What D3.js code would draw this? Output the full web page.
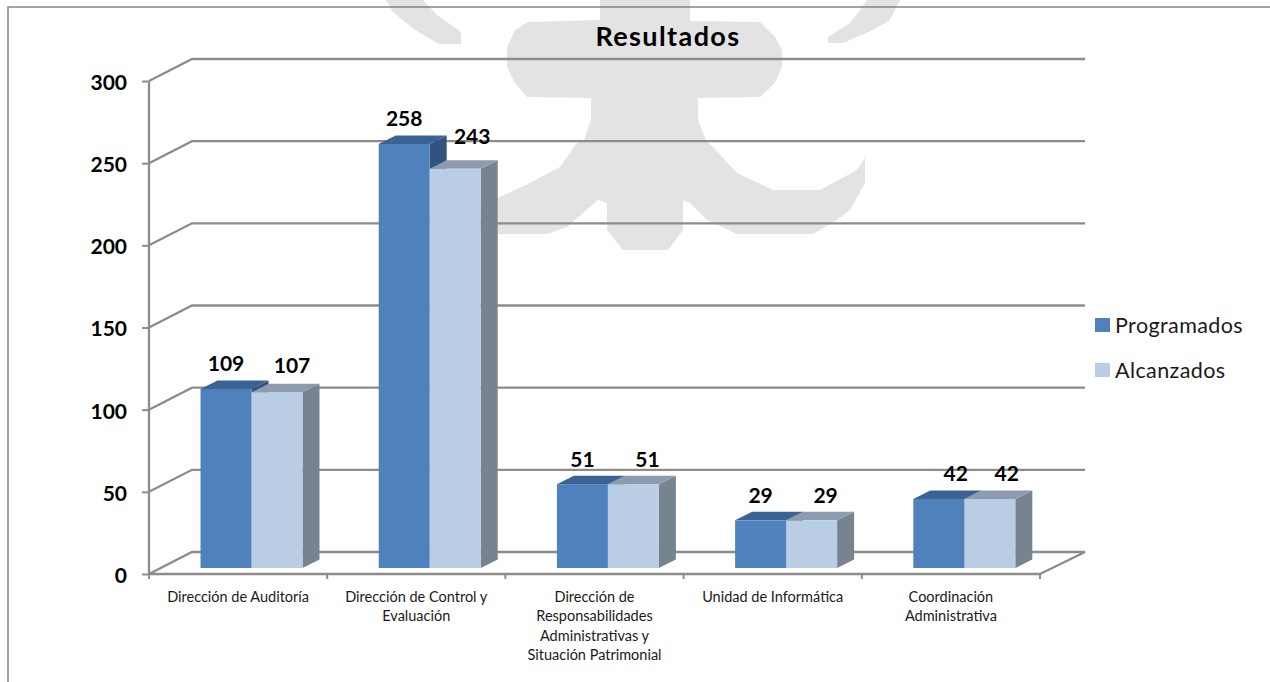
<!DOCTYPE html>
<html>
<head>
<meta charset="utf-8">
<script src="https://cdn.jsdelivr.net/npm/d3@7"></script>
<style>
  html, body { margin: 0; padding: 0; background: #fff; }
  svg { display: block; font-family: Lato, 'Open Sans', sans-serif; }
  .grid { fill: none; stroke: #8c8c8c; stroke-width: 2.3; }
  .y.axis text { font-family: Lato, 'Open Sans', sans-serif; font-size: 21px; font-weight: 700; fill: #000; }
  .y.axis path { display: none; }
  .y.axis line, .x.axis line { stroke: #8c8c8c; stroke-width: 2; }
  .value { font-size: 21px; font-weight: 700; fill: #000; text-anchor: middle; }
  .cat { font-size: 14.5px; fill: #1a1a1a; text-anchor: middle; }
  .legend { font-size: 21.5px; letter-spacing: 0.4px; fill: #1a1a1a; }
</style>
</head>
<body>
<div id="chart"></div>
<script>
const categories = [
  ['Dirección de Auditoría'],
  ['Dirección de Control y', 'Evaluación'],
  ['Dirección de', 'Responsabilidades', 'Administrativas y', 'Situación Patrimonial'],
  ['Unidad de Informática'],
  ['Coordinación', 'Administrativa']
];
const programados = [109, 258, 51, 29, 42];
const alcanzados = [107, 243, 51, 29, 42];
const yTicks = [0, 50, 100, 150, 200, 250, 300];

// the data labels were moved by hand in the original, so each keeps a nudge
const labelNudgeProg = [[0, -25], [0, -25], [0, -25], [0, -25], [17, -25]];
const labelNudgeAlc = [[15, -27], [17, -32], [14, -25], [14, -25], [17, -25]];

// pale logo behind the chart
const watermark = [
  [[600, 0], [690, 0], [690, 21], [760, 22], [775, 37], [782, 50], [782, 67], [775, 83], [760, 97],
   [698, 98], [698, 120], [706, 140], [713, 147], [737, 173], [773, 190], [820, 190], [857, 170],
   [865, 158], [865, 183], [850, 210], [837, 220], [813, 234], [737, 234], [707, 220], [690, 203],
   [683, 200], [683, 230], [668, 250], [623, 250], [607, 230], [607, 203], [598, 200], [583, 213],
   [567, 227], [547, 234], [470, 234], [470, 205], [500, 197], [530, 183], [560, 167], [577, 143],
   [584, 140], [591, 120], [591, 98], [527, 97], [515, 83], [507, 67], [507, 47], [515, 30],
   [528, 22], [600, 20]],
  [[386, 0], [423, 0], [437, 15], [461, 32], [461, 44], [439, 44], [415, 30], [393, 12]],
  [[867, 0], [900, 0], [890, 20], [873, 30], [843, 43], [828, 43], [828, 37], [850, 23], [860, 10]]
];

const width = 1270;
const height = 682;
const depth = { x: 17, y: 8.5 };
const wall = { x: 43, y: 22 };
const left = 149;
const right = 1040;
const gap = 6; // bars stand a little behind the floor edge

const svg = d3.select('#chart').append('svg')
  .attr('width', width)
  .attr('height', height);

const xScale = d3.scaleBand()
  .domain(d3.range(categories.length))
  .range([left, right])
  .paddingInner(0)
  .paddingOuter(0);
const yScale = d3.scaleLinear().domain([0, 300]).range([574, 81]);
const barWidth = 51;
const barStart = 51.5;

// background
svg.append('g').selectAll('polygon')
  .data(watermark)
  .join('polygon')
  .attr('points', (d) => d.join(' '))
  .attr('fill', '#e3e3e3');

// frame
svg.append('path')
  .attr('d', d3.line()([[8, height], [8, 7], [width, 7]]))
  .attr('fill', 'none')
  .attr('stroke', '#858585')
  .attr('stroke-width', 1.5);

// walls and grid
const line = d3.line();
svg.append('g').selectAll('path')
  .data(yTicks.filter((t) => t > 0))
  .join('path')
  .attr('class', 'grid')
  .attr('d', (t) => line([
    [left, yScale(t)],
    [left + wall.x, yScale(t) - wall.y],
    [right + 45, yScale(t) - wall.y]
  ]));

svg.append('path')
  .attr('class', 'grid')
  .attr('d', line([
    [left, yScale(0)],
    [left + wall.x, yScale(0) - wall.y],
    [right + 45, yScale(0) - wall.y],
    [right, yScale(0)]
  ]));

// axes
const yAxis = d3.axisLeft(yScale).tickValues(yTicks).tickSize(7).tickPadding(15);
svg.append('g')
  .attr('class', 'y axis')
  .attr('transform', `translate(${left}, 0)`)
  .call(yAxis)
  .selectAll('text')
  .attr('dy', '0.4em');

svg.append('path')
  .attr('class', 'grid')
  .attr('d', line([[left, yScale(300)], [left, yScale(0)]]));

svg.append('path')
  .attr('class', 'grid')
  .attr('d', line([[left, yScale(0)], [right, yScale(0)]]));

svg.append('g')
  .attr('class', 'x axis')
  .selectAll('line')
  .data(d3.range(categories.length + 1))
  .join('line')
  .attr('x1', (i) => left + i * xScale.step())
  .attr('x2', (i) => left + i * xScale.step())
  .attr('y1', yScale(0))
  .attr('y2', yScale(0) + 5);

function drawSeries(values, offset, colors) {
  const g = svg.append('g');
  const top = (v) => yScale(v) - gap;
  const bottom = yScale(0) - gap;
  const x0 = (i) => xScale(i) + barStart + offset * barWidth;
  const x1 = (i) => x0(i) + barWidth;

  values.forEach((v, i) => {
    g.append('polygon')
      .attr('fill', colors.side)
      .attr('points', [
        [x1(i), top(v)],
        [x1(i) + depth.x, top(v) - depth.y],
        [x1(i) + depth.x, bottom - depth.y],
        [x1(i), bottom]
      ].join(' '));
    g.append('polygon')
      .attr('fill', colors.top)
      .attr('points', [
        [x0(i), top(v)],
        [x0(i) + depth.x, top(v) - depth.y],
        [x1(i) + depth.x, top(v) - depth.y],
        [x1(i), top(v)]
      ].join(' '));
    g.append('rect')
      .attr('x', x0(i))
      .attr('y', top(v))
      .attr('width', barWidth)
      .attr('height', bottom - top(v))
      .attr('fill', colors.front);
  });
}

drawSeries(programados, 0, { front: '#4f81bd', top: '#3a6292', side: '#31547f' });
drawSeries(alcanzados, 1, { front: '#b9cde5', top: '#8c9bae', side: '#77848f' });

function drawLabels(values, offset, nudges) {
  svg.append('g').selectAll('text')
    .data(values)
    .join('text')
    .attr('class', 'value')
    .attr('x', (d, i) => xScale(i) + barStart + offset * barWidth + barWidth / 2 + nudges[i][0])
    .attr('y', (d, i) => yScale(d) - gap + nudges[i][1])
    .attr('dy', '0.35em')
    .text((d) => d);
}

drawLabels(programados, 0, labelNudgeProg);
drawLabels(alcanzados, 1, labelNudgeAlc);

// category names
const catText = svg.append('g').selectAll('text')
  .data(categories)
  .join('text')
  .attr('class', 'cat')
  .attr('y', 602);

catText.selectAll('tspan')
  .data((d, i) => d.map((s) => ({ s, i })))
  .join('tspan')
  .attr('x', (d) => xScale(d.i) + xScale.bandwidth() / 2)
  .attr('dy', (d, j) => (j === 0 ? 0 : 19.4))
  .text((d) => d.s);

// title
svg.append('text')
  .attr('x', 668)
  .attr('y', 46)
  .attr('text-anchor', 'middle')
  .style('font-size', '27px')
  .style('font-weight', 700)
  .style('letter-spacing', '1.4px')
  .text('Resultados');

// legend
const legendItems = [
  { name: 'Programados', color: '#4f81bd' },
  { name: 'Alcanzados', color: '#b9cde5' }
];
const legend = svg.append('g').selectAll('g')
  .data(legendItems)
  .join('g')
  .attr('transform', (d, i) => `translate(1095, ${318 + i * 45})`);
legend.append('rect')
  .attr('width', 15)
  .attr('height', 14)
  .attr('fill', (d) => d.color);
legend.append('text')
  .attr('class', 'legend')
  .attr('x', 20)
  .attr('y', 7)
  .attr('dy', '0.35em')
  .text((d) => d.name);
</script>
</body>
</html>
